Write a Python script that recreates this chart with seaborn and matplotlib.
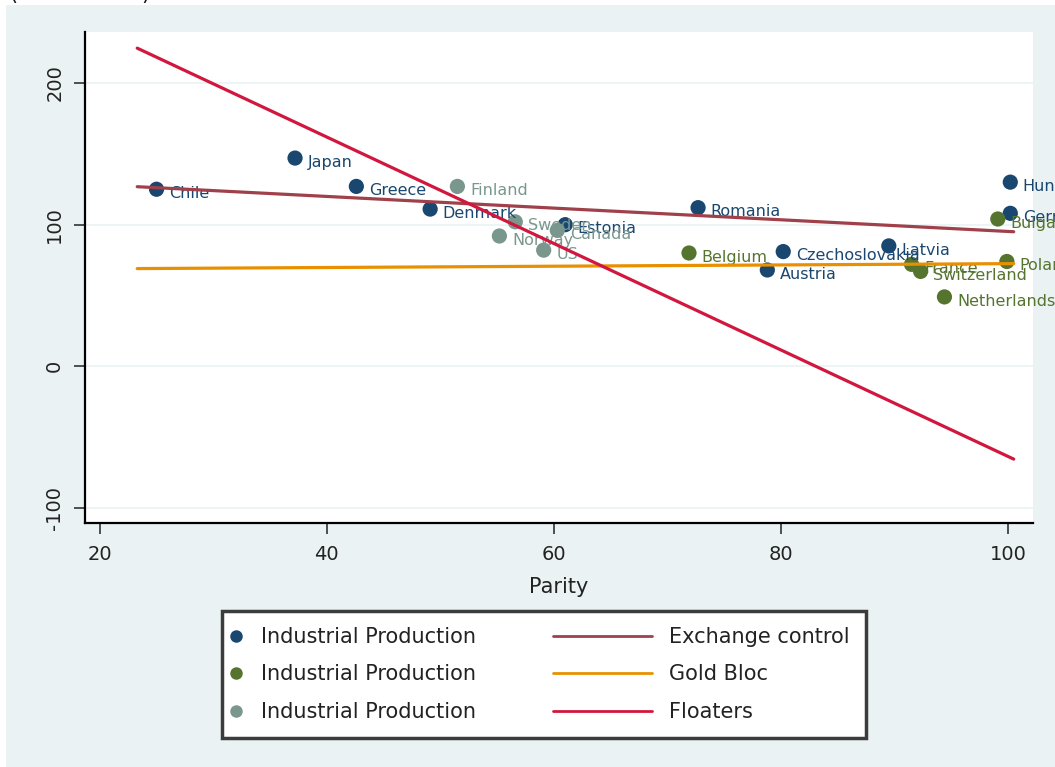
import matplotlib
matplotlib.use('Agg')
import matplotlib.pyplot as plt
from matplotlib.lines import Line2D
from matplotlib.patches import Rectangle
import pandas as pd
import seaborn as sns

# Values: parity (x) and industrial production (y)
exchange_names = ['Chile', 'Japan', 'Greece', 'Denmark', 'Estonia', 'Romania',
                  'Austria', 'Czechoslovakia', 'Latvia', 'Germany', 'Hungary']
exchange_parity = [25.0, 37.2, 42.6, 49.1, 61.0, 72.7, 78.8, 80.2, 89.5, 100.2, 100.2]
exchange_ip = [125, 147, 127, 111, 100, 112, 68, 81, 85, 108, 130]

gold_names = ['Belgium', 'France', 'Switzerland', 'Netherlands', 'Bulgaria', 'Poland']
gold_parity = [71.9, 91.5, 92.3, 94.4, 99.1, 99.9]
gold_ip = [80, 72, 67, 49, 104, 74]

float_names = ['Finland', 'Norway', 'Sweden', 'US', 'Canada']
float_parity = [51.5, 55.2, 56.6, 59.1, 60.3]
float_ip = [127, 92, 102, 82, 96]

# Fitted lines (end points)
fit_parity = [23.3, 100.5]
fit_exchange = [126.8, 95.0]
fit_gold = [69.0, 72.5]
fit_float = [224.6, -65.5]

groups = ['Exchange control', 'Gold Bloc', 'Floaters']
point_colors = ['#1a476f', '#55752f', '#7a978d']
line_colors = ['#a0404a', '#e89000', '#d2173f']

x_ticks = [20, 40, 60, 80, 100]
y_ticks = [-100, 0, 100, 200]

BG = '#eaf2f3'

# Build a long table for seaborn
df = pd.DataFrame({
    'country': exchange_names + gold_names + float_names,
    'Parity': exchange_parity + gold_parity + float_parity,
    'ip': exchange_ip + gold_ip + float_ip,
    'group': ([groups[0]] * len(exchange_names) + [groups[1]] * len(gold_names)
              + [groups[2]] * len(float_names)),
})
fits = pd.DataFrame({
    'Parity': fit_parity * 3,
    'fit': fit_exchange + fit_gold + fit_float,
    'group': [g for g in groups for _ in fit_parity],
})

sns.set_style('white')
plt.rcParams['font.family'] = ['DejaVu Sans']

fig = plt.figure(figsize=(10.55, 7.67), dpi=100, facecolor='white')
fig.patches.append(Rectangle((6 / 1055, 0), 1, 1 - 5 / 767, transform=fig.transFigure,
                             facecolor=BG, edgecolor='none', zorder=-10))
ax = fig.add_axes([85 / 1055, 1 - 523 / 767, 948 / 1055, 491 / 767])
ax.set_facecolor('white')

# Points
sns.scatterplot(data=df, x='Parity', y='ip', hue='group', hue_order=groups,
                palette=point_colors, s=120, edgecolor='none', legend=False,
                ax=ax, zorder=3)

# Point labels to the right of each marker
color_of = dict(zip(groups, point_colors))
for _, row in df.iterrows():
    ax.annotate(row['country'], (row['Parity'], row['ip']), xytext=(9, -3),
                textcoords='offset points', va='center', ha='left', fontsize=11.5,
                color=color_of[row['group']], annotation_clip=False, zorder=4)

# Fitted lines
sns.lineplot(data=fits, x='Parity', y='fit', hue='group', hue_order=groups,
             palette=line_colors, linewidth=2.3, legend=False, ax=ax, zorder=5)

ax.set_xlim(18.7, 102.2)
ax.set_ylim(-110.6, 236)
ax.set_xticks(x_ticks)
ax.set_yticks(y_ticks)
ax.set_yticklabels([str(t) for t in y_ticks], rotation=90, va='center')
ax.yaxis.grid(True, color=BG, linewidth=1.2)
ax.set_axisbelow(True)
ax.tick_params(axis='both', direction='out', length=8, width=1.2, color='#333333',
               labelsize=14, labelcolor='#222222', left=True, bottom=True)
ax.tick_params(axis='x', pad=8)
ax.tick_params(axis='y', pad=7)
ax.set_xlabel('Parity', fontsize=15, color='#222222', labelpad=9)
ax.set_ylabel('')
for side in ('top', 'right'):
    ax.spines[side].set_visible(False)
for side in ('left', 'bottom'):
    ax.spines[side].set_color('black')
    ax.spines[side].set_linewidth(1.6)

# Legend frame and two columns
fig.patches.append(Rectangle((222 / 1055, 1 - 738 / 767), 644 / 1055, 127 / 767,
                             transform=fig.transFigure, facecolor='white',
                             edgecolor='#3c3c3c', linewidth=2.5, zorder=1))
dot_handles = [Line2D([], [], marker='o', linestyle='none', markersize=9,
                      markerfacecolor=c, markeredgecolor='none') for c in point_colors]
line_handles = [Line2D([], [], color=c, linewidth=2) for c in line_colors]
leg_kw = dict(frameon=False, fontsize=15, borderpad=0, borderaxespad=0,
              labelspacing=0.84, loc='upper left', labelcolor='#222222')
leg1 = fig.legend(dot_handles, ['Industrial Production'] * 3,
                  bbox_to_anchor=(226 / 1055, 1 - 627 / 767), handlelength=1.0,
                  handletextpad=0.7, **leg_kw)
leg2 = fig.legend(line_handles, groups,
                  bbox_to_anchor=(553 / 1055, 1 - 627 / 767), handlelength=4.75,
                  handletextpad=0.8, **leg_kw)
leg1.set_zorder(2)
leg2.set_zorder(2)

# Cropped caption at the very top
fig.text(10 / 1055, 1.0, '(1929 = 100)', fontsize=15, va='baseline',
         ha='left', color='#111111')

fig.savefig('out.png', dpi=100, facecolor=fig.get_facecolor())
